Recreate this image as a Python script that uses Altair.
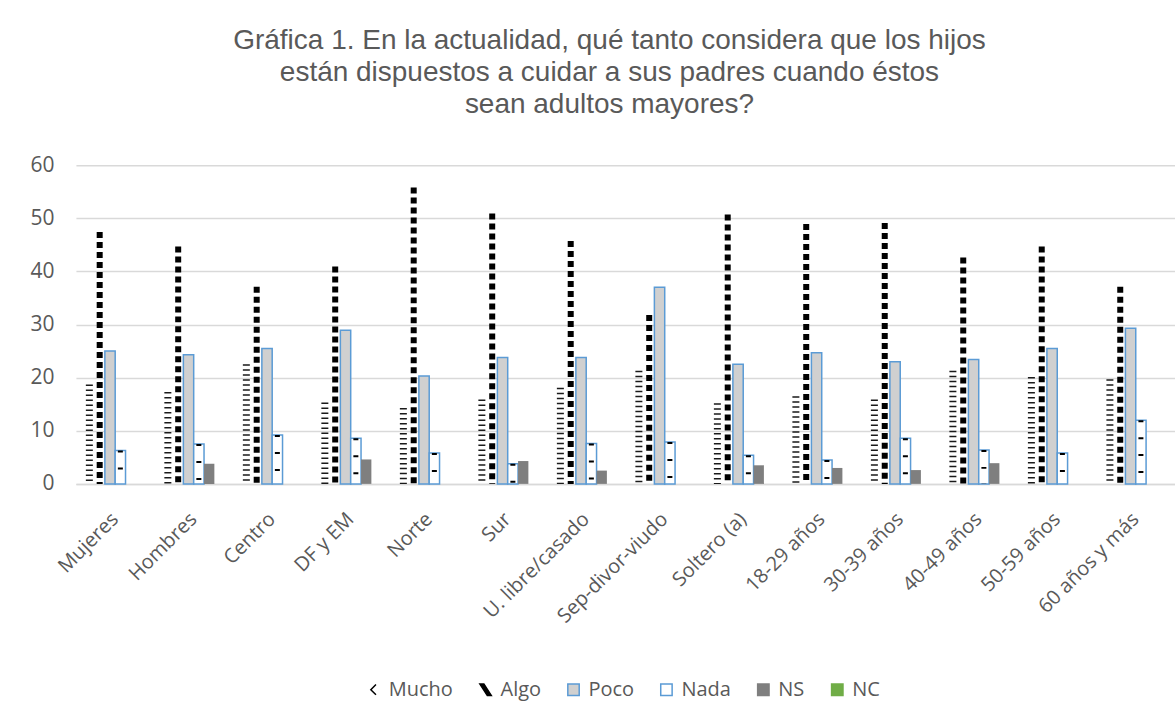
import altair as alt
import pandas as pd

categories = ["Mujeres", "Hombres", "Centro", "DF y EM", "Norte", "Sur",
              "U. libre/casado", "Sep-divor-viudo", "Soltero (a)", "18-29 años",
              "30-39 años", "40-49 años", "50-59 años", "60 años y más"]
series = ["Mucho", "Algo", "Poco", "Nada", "NS", "NC"]
mucho = [18.7, 17.3, 22.5, 15.3, 14.3, 15.9, 18.1, 21.3, 15.2, 16.5, 15.9, 21.3, 20.1, 19.7]
algo = [47.4, 44.7, 37.1, 40.9, 55.8, 50.9, 45.7, 31.8, 50.7, 48.9, 49.1, 42.6, 44.7, 37.1]
poco = [25.0, 24.3, 25.5, 28.9, 20.3, 23.8, 23.8, 37.0, 22.5, 24.7, 23.0, 23.4, 25.5, 29.3]
nada = [6.3, 7.5, 9.2, 8.6, 5.8, 3.8, 7.6, 7.9, 5.4, 4.5, 8.6, 6.4, 5.8, 12.0]
ns = [0, 3.8, 0, 4.6, 0, 4.3, 2.5, 0, 3.5, 3.0, 2.6, 3.9, 0, 0]
nc = [0] * 14

values = {"Mucho": mucho, "Algo": algo, "Poco": poco, "Nada": nada, "NS": ns, "NC": nc}
rows = []
for s in series:
    for c, v in zip(categories, values[s]):
        rows.append({"cat": c, "series": s, "value": v})
df = pd.DataFrame(rows)

TXT = "#595959"
TFONT = "Liberation Sans"
AFONT = "Open Sans"

x_enc = alt.X("cat:N", sort=categories, title=None,
              scale=alt.Scale(paddingInner=0.21, paddingOuter=0.105),
              axis=alt.Axis(labelAngle=-45, labelFontSize=20, labelColor=TXT,
                            labelFont=AFONT, ticks=False, domainColor="#d9d9d9",
                            domainWidth=1.5, labelPadding=32, labelAlign="right",
                            labelBaseline="middle", labelOverlap=False))
xo_enc = alt.XOffset("series:N", sort=series,
                     scale=alt.Scale(domain=series, paddingInner=0, paddingOuter=0))
y_enc = alt.Y("value:Q", title=None,
              scale=alt.Scale(domain=[0, 60]),
              axis=alt.Axis(values=[0, 10, 20, 30, 40, 50, 60], labelFontSize=21,
                            labelColor=TXT, labelFont=AFONT, domain=False, ticks=False,
                            gridColor="#d9d9d9", gridWidth=1.5, labelPadding=22))

base = alt.Chart(df)


def filt(s):
    return base.transform_filter(alt.datum.series == s)


mucho_l = filt("Mucho").mark_rule(color="#1a1a1a", strokeWidth=7, strokeDash=[1.5, 3.5]).encode(
    x=x_enc, xOffset=xo_enc, y=y_enc, y2=alt.datum(0))
algo_l = filt("Algo").mark_rule(color="black", strokeWidth=6, strokeDash=[6, 4]).encode(
    x=x_enc, xOffset=xo_enc, y=y_enc, y2=alt.datum(0))
poco_l = filt("Poco").mark_bar(fill="#d0d0d0", stroke="#5b9bd5", strokeWidth=1.5).encode(
    x=x_enc, xOffset=xo_enc, y=y_enc)
nada_l = filt("Nada").mark_bar(fill="white", stroke="#5b9bd5", strokeWidth=1.5).encode(
    x=x_enc, xOffset=xo_enc, y=y_enc)
nada_r = filt("Nada").mark_rule(color="black", strokeWidth=5, strokeDash=[2, 15]).encode(
    x=x_enc, xOffset=xo_enc, y=y_enc, y2=alt.datum(0))
ns_l = filt("NS").mark_bar(fill="#7f7f7f").encode(x=x_enc, xOffset=xo_enc, y=y_enc)
nc_l = filt("NC").mark_bar(fill="#70ad47").encode(x=x_enc, xOffset=xo_enc, y=y_enc)

leg_df = pd.DataFrame({"series": series})
shapes = ["M0.4,-0.9L-0.5,0L0.4,0.9", "M-1,-1L-0.3,-1L1,1L0.3,1Z", "square",
          "M-1,-1H1V1H-1Z", "square", "square"]
fills = ["transparent", "black", "#d0d0d0", "white", "#7f7f7f", "#70ad47"]
strokes = ["black", "black", "#5b9bd5", "#5b9bd5", "#7f7f7f", "#70ad47"]
leg = alt.Chart(leg_df).mark_point(opacity=0, filled=True).encode(
    fill=alt.Fill("series:N", sort=series, scale=alt.Scale(domain=series, range=fills), title=None),
    stroke=alt.Stroke("series:N", sort=series, scale=alt.Scale(domain=series, range=strokes), title=None),
    shape=alt.Shape("series:N", sort=series, scale=alt.Scale(domain=series, range=shapes), title=None),
)

chart = alt.layer(mucho_l, algo_l, poco_l, nada_l, nada_r, ns_l, nc_l, leg).properties(
    width=1100, height=319,
    padding={"left": 29, "top": 27, "right": 0, "bottom": 5},
    title=alt.Title(["Gráfica 1. En la actualidad, qué tanto considera que los hijos",
                     "están dispuestos a cuidar a sus padres cuando éstos",
                     "sean adultos mayores?"],
                    fontSize=28, color=TXT, font=TFONT, fontWeight="normal",
                    lineHeight=32, offset=35, anchor="middle", dx=-16),
).configure_view(stroke=None).configure_legend(
    orient="none", legendX=288, legendY=515, direction="horizontal",
    labelFontSize=20, labelColor=TXT, labelFont=AFONT, symbolSize=130,
    symbolOpacity=1, symbolStrokeWidth=1.5, columnPadding=22, labelOffset=5,
)

chart.save("out.html", embed_options={"renderer": "svg", "actions": False})
